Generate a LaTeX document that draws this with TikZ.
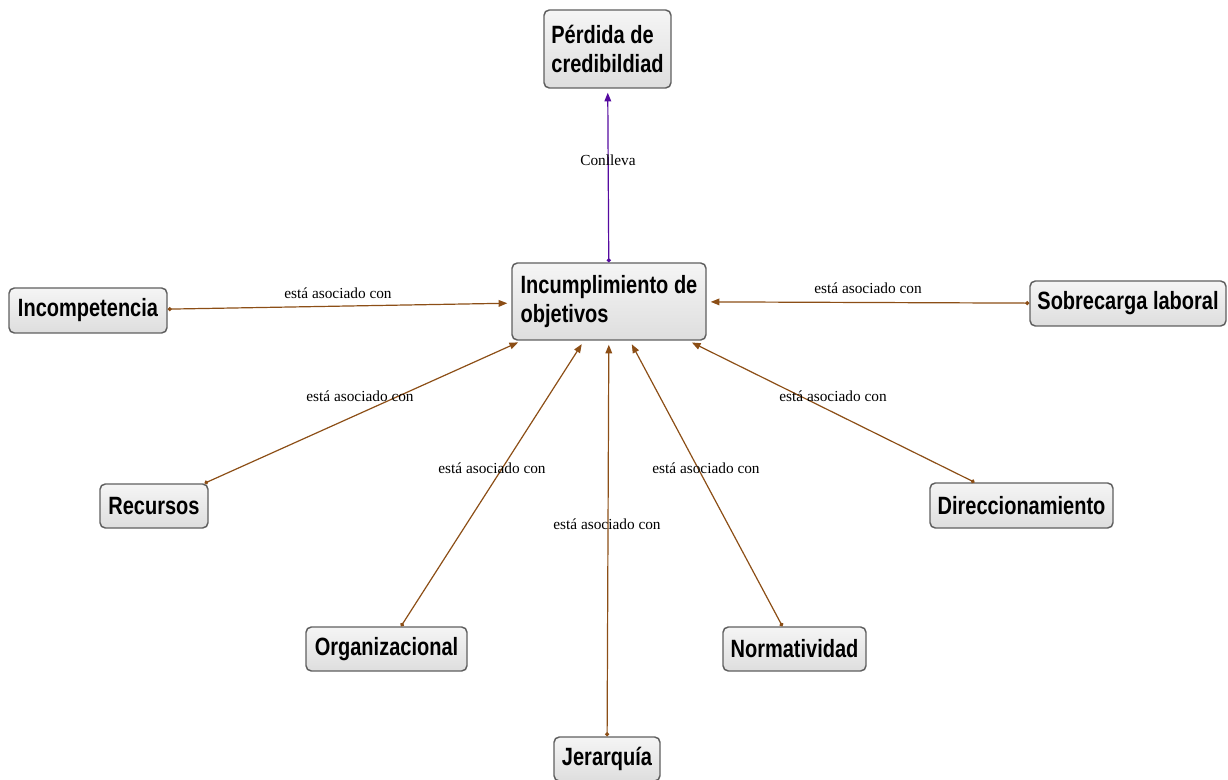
\documentclass[tikz,border=0pt]{standalone}
\usepackage{fontspec}
\setmainfont{Liberation Serif}
\newfontfamily\boxfont[FakeStretch=0.8]{Liberation Sans}
\usetikzlibrary{arrows.meta}
\definecolor{edgebrown}{RGB}{140,78,22}
\definecolor{edgepurple}{RGB}{85,10,160}
\definecolor{boxborder}{RGB}{95,95,95}
\begin{document}
\begin{tikzpicture}[x=0.75pt,y=-0.75pt,
  concept/.style={draw=boxborder, line width=1.1pt, rounded corners=4pt,
    top color=white!96!black, bottom color=white!87!black,
    font=\boxfont\bfseries\fontsize{18.75}{21.75}\selectfont,
    align=left, inner xsep=4pt, inner ysep=2pt},
  sz/.style 2 args={minimum width={#1*0.75pt}, minimum height={#2*0.75pt}},
  link/.style={draw=edgebrown, line width=0.9pt,
    {Circle[length=3pt]}-{Triangle[length=6.5pt,width=5pt]}, shorten >=3pt},
  lbl/.style={font=\fontsize{11.5}{13}\selectfont, inner sep=1pt}]
\useasboundingbox (0,0) rectangle (1228,780);

\node[concept, sz={127}{78}] (perdida) at (607.5,49) {Pérdida de\\credibildiad};
\node[concept, sz={194}{77}] (incump) at (609,301.5) {Incumplimiento de\\objetivos};
\node[concept, sz={158}{45}] (incomp) at (88,310.5) {Incompetencia};
\node[concept, sz={196}{45}] (sobre) at (1128,303.5) {Sobrecarga laboral};
\node[concept, sz={108}{44}] (recursos) at (154,506) {Recursos};
\node[concept, sz={183}{45}] (direcc) at (1021.5,505.5) {Direccionamiento};
\node[concept, sz={161}{44}] (organiz) at (386.5,649) {Organizacional};
\node[concept, sz={143}{44}] (normat) at (794.5,649) {Normatividad};
\node[concept, sz={106}{44}] (jerarq) at (607,759) {Jerarquía};

\draw[link, draw=edgepurple] (incump) -- (perdida);
\draw[link] (incomp) -- (incump);
\draw[link] (sobre) -- (incump);
\draw[link] (recursos) -- (incump);
\draw[link] (direcc) -- (incump);
\draw[link] (organiz) -- (incump);
\draw[link] (normat) -- (incump);
\draw[link] (jerarq) -- (incump);

\node[lbl] (lconl) at (608,160) {Conlleva};
\node[lbl] (lincomp) at (338,293) {está asociado con};
\node[lbl] (lsobre) at (868,288) {está asociado con};
\node[lbl] (lrec) at (360,396) {está asociado con};
\node[lbl] (ldir) at (833,396) {está asociado con};
\node[lbl] (lorg) at (492,468) {está asociado con};
\node[lbl] (lnor) at (706,468) {está asociado con};
\node[lbl] (ljer) at (607,524) {está asociado con};
\end{tikzpicture}
\end{document}
